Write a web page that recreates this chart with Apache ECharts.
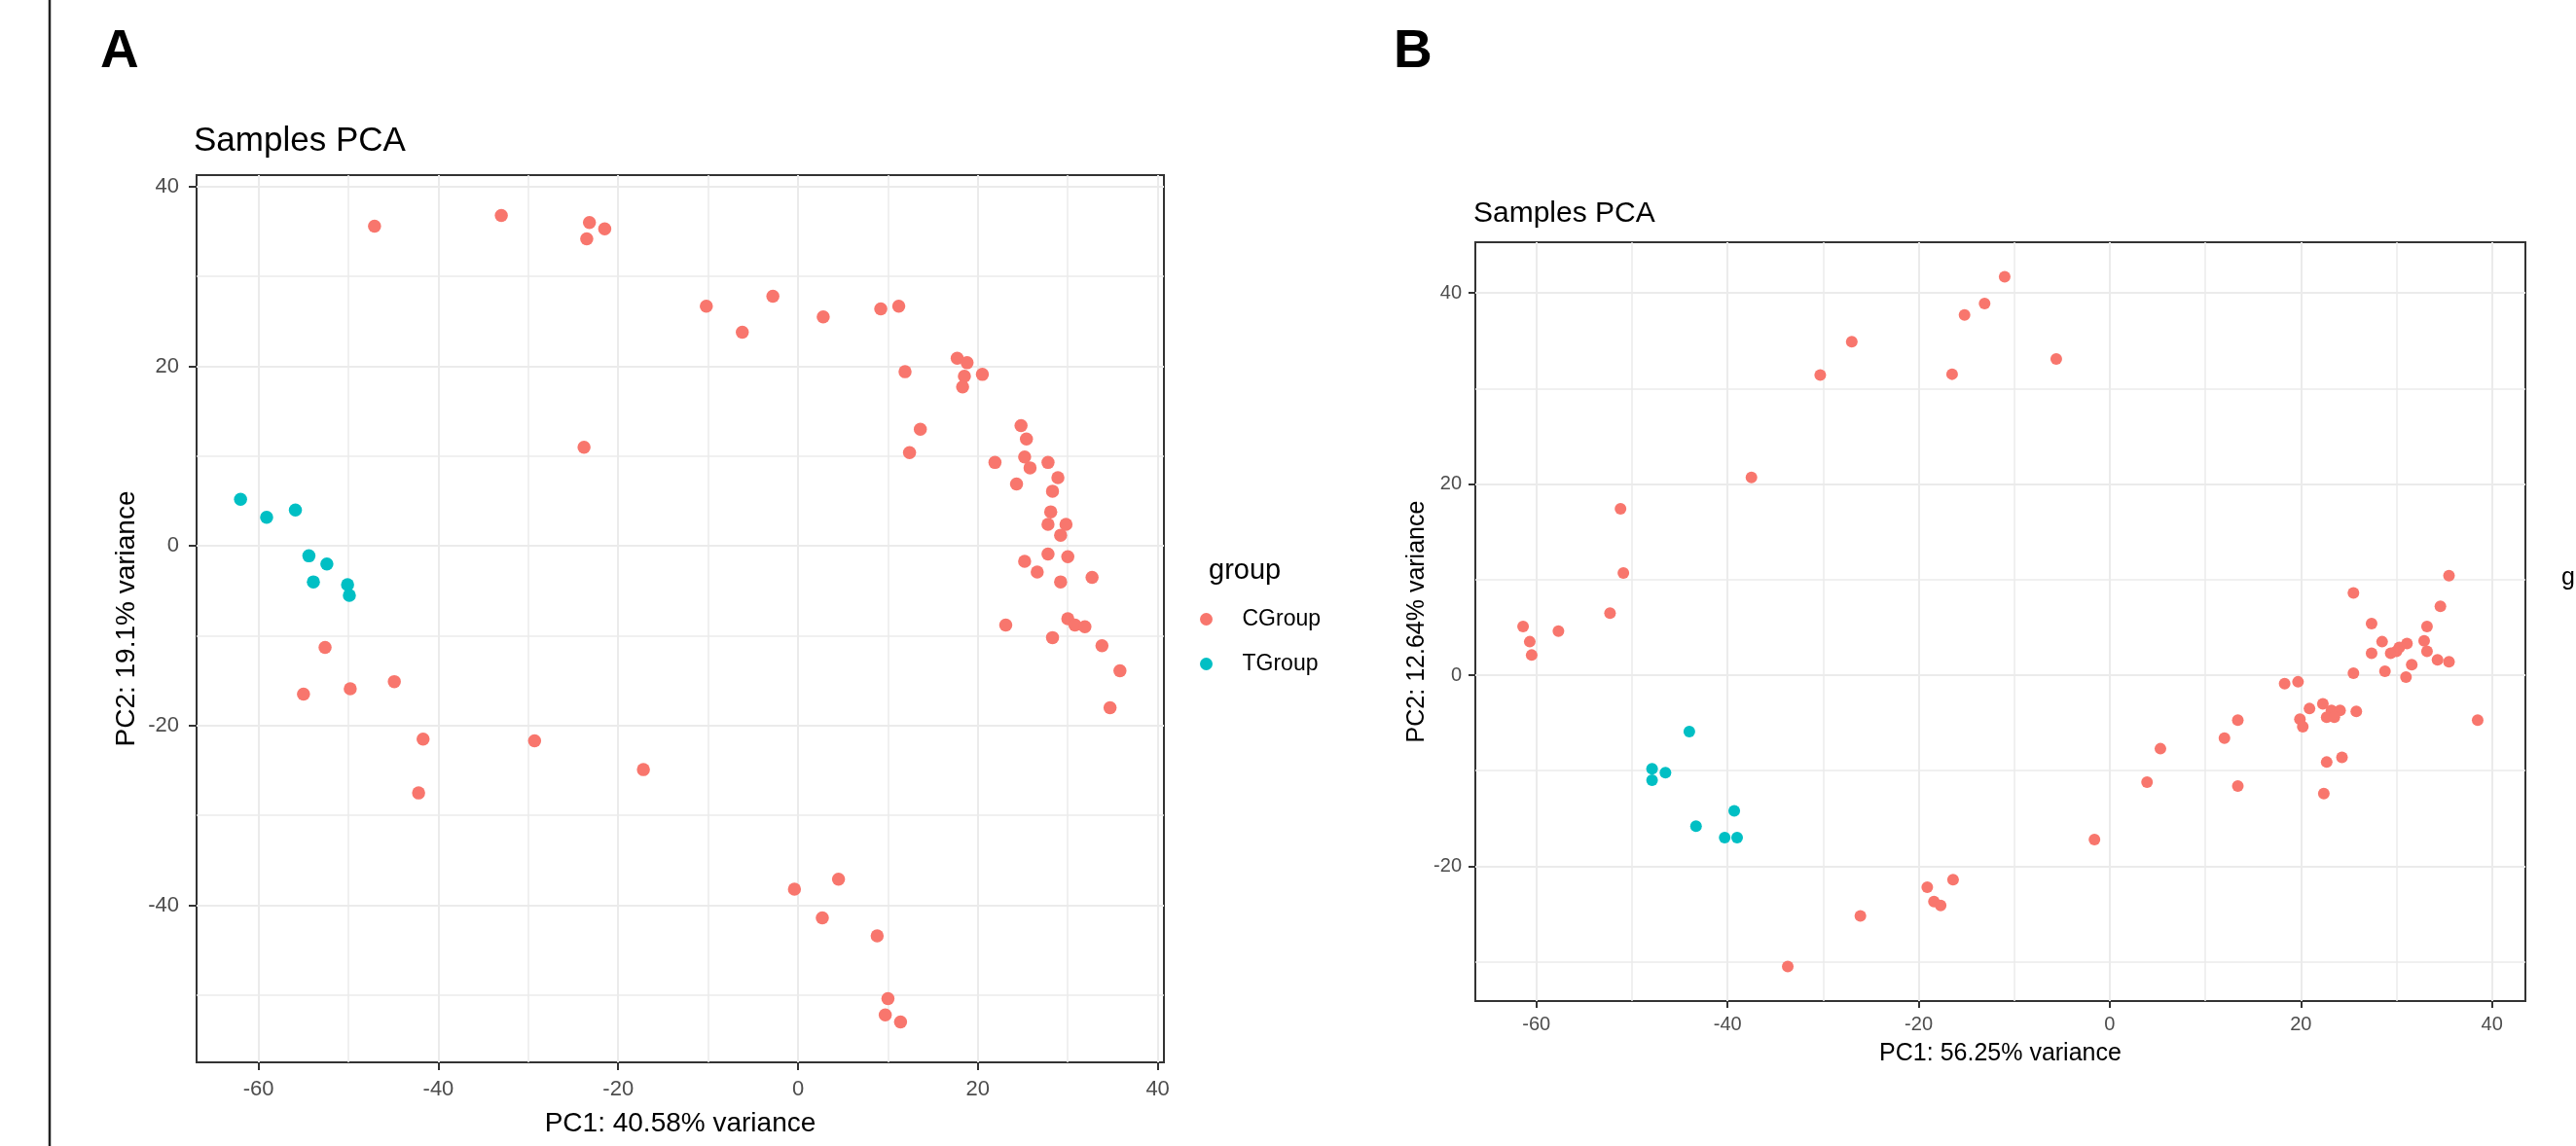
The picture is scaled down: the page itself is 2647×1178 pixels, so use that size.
<!DOCTYPE html>
<html>
<head>
<meta charset="utf-8">
<script src="https://cdn.jsdelivr.net/npm/echarts@6.0.0/dist/echarts.min.js"></script>
<style>
  html, body { margin: 0; padding: 0; background: #fff; }
  #chart { width: 2647px; height: 1178px; }
</style>
</head>
<body>
<div id="chart"></div>
<script>
const groups = ['CGroup', 'TGroup'];
const groupColors = ['#F8766D', '#00BFC4'];

// panel A scores [PC1, PC2]
const pcaA_CGroup = [
  [-47.1, 35.6], [-33.0, 36.8], [-23.2, 36.0], [-21.5, 35.3], [-23.5, 34.2],
  [-10.2, 26.7], [-6.2, 23.8], [-2.8, 27.8], [2.8, 25.5], [9.2, 26.4], [11.2, 26.7],
  [11.9, 19.4], [17.7, 20.9], [18.8, 20.4], [18.5, 18.9], [18.3, 17.7], [20.5, 19.1],
  [13.6, 13.0], [12.4, 10.4], [-23.8, 11.0],
  [24.8, 13.4], [25.4, 11.9], [21.9, 9.3], [25.2, 9.9], [25.8, 8.7], [27.8, 9.3],
  [24.3, 6.9], [28.9, 7.6], [28.3, 6.1], [28.1, 3.8], [27.8, 2.4], [29.8, 2.4], [29.2, 1.2],
  [25.2, -1.7], [27.8, -0.9], [30.0, -1.2], [26.6, -2.9], [29.2, -4.0], [32.7, -3.5],
  [23.1, -8.8], [30.0, -8.1], [30.8, -8.8], [31.9, -9.0], [28.3, -10.2], [33.8, -11.1],
  [35.8, -13.9], [34.7, -18.0],
  [-52.6, -11.3], [-55.0, -16.5], [-49.8, -15.9], [-44.9, -15.1], [-41.7, -21.5],
  [-42.2, -27.5], [-29.3, -21.7], [-17.2, -24.9],
  [-0.4, -38.2], [4.5, -37.1], [2.7, -41.4], [8.8, -43.4], [10.0, -50.4], [9.7, -52.2], [11.4, -53.0]
];
const pcaA_TGroup = [
  [-62.0, 5.2], [-59.1, 3.2], [-55.9, 4.0], [-54.4, -1.1],
  [-52.4, -2.0], [-53.9, -4.0], [-50.1, -4.3], [-49.9, -5.5]
];

// panel B scores [PC1, PC2]
const pcaB_CGroup = [
  [-61.4, 5.1], [-60.7, 3.5], [-60.5, 2.1], [-57.7, 4.6], [-52.3, 6.5], [-51.2, 17.4],
  [-50.9, 10.7], [-37.5, 20.7],
  [-30.3, 31.4], [-27.0, 34.9], [-16.5, 31.5], [-15.2, 37.7], [-13.1, 38.9], [-11.0, 41.7], [-5.6, 33.1],
  [-33.7, -30.5], [-26.1, -25.2], [-19.1, -22.2], [-18.4, -23.7], [-17.7, -24.1], [-16.4, -21.4],
  [-1.6, -17.2], [3.9, -11.2], [5.3, -7.7], [12.0, -6.6], [13.4, -4.7], [13.4, -11.6],
  [18.3, -0.9], [19.7, -0.7], [22.3, -3.0], [20.9, -3.5], [23.2, -3.7], [24.1, -3.7],
  [22.7, -4.4], [23.5, -4.4], [25.8, -3.8], [19.9, -4.6], [20.2, -5.4], [24.3, -8.6],
  [22.7, -9.1], [22.4, -12.4], [38.5, -4.7],
  [25.5, 8.6], [27.4, 5.4], [27.4, 2.3], [28.5, 3.5], [28.8, 0.4], [29.4, 2.3], [30.0, 2.5],
  [30.3, 2.9], [31.1, 3.3], [31.0, -0.2], [31.6, 1.1], [32.9, 3.6], [33.2, 5.1], [33.2, 2.5],
  [34.3, 1.6], [34.6, 7.2], [35.5, 10.4], [35.5, 1.4], [25.5, 0.2]
];
const pcaB_TGroup = [
  [-44.0, -5.9], [-47.9, -9.8], [-47.9, -11.0], [-46.5, -10.2],
  [-43.3, -15.8], [-39.3, -14.2], [-40.3, -17.0], [-39.0, -17.0]
];

// tick labels (major) and minor grid positions
const ticksA_x = [-60, -40, -20, 0, 20, 40];
const ticksA_y = [-40, -20, 0, 20, 40];
const minorA_x = [-60, -50, -40, -30, -20, -10, 0, 10, 20, 30, 40];
const minorA_y = [-50, -40, -30, -20, -10, 0, 10, 20, 30, 40];
const ticksB_x = [-60, -40, -20, 0, 20, 40];
const ticksB_y = [-20, 0, 20, 40];
const minorB_x = [-60, -50, -40, -30, -20, -10, 0, 10, 20, 30, 40];
const minorB_y = [-30, -20, -10, 0, 10, 20, 30, 40];

const FONT = '"Liberation Sans", Arial, sans-serif';

// ggplot style 5% padding round the data
const padRange = (sets, dim) => {
  const vals = sets.flat().map(p => p[dim]);
  const lo = Math.min(...vals), hi = Math.max(...vals);
  const pad = (hi - lo) * 0.05;
  return [lo - pad, hi + pad];
};

const rangeA_x = padRange([pcaA_CGroup, pcaA_TGroup], 0);
const rangeA_y = padRange([pcaA_CGroup, pcaA_TGroup], 1);
const rangeB_x = padRange([pcaB_CGroup, pcaB_TGroup], 0);
const rangeB_y = padRange([pcaB_CGroup, pcaB_TGroup], 1);

const mainAxis = (gridIndex, range, ticks, o) => ({
  type: 'value',
  gridIndex: gridIndex,
  min: range[0],
  max: range[1],
  axisLine: { show: false, onZero: false },
  axisTick: { show: true, length: o.tick, customValues: ticks, lineStyle: { color: '#333333', width: 2 } },
  axisLabel: { customValues: ticks, margin: o.margin, color: '#4D4D4D', fontSize: o.label, fontFamily: FONT },
  splitLine: { show: true, lineStyle: { color: '#EBEBEB', width: 2 } },
  name: o.name,
  nameLocation: 'middle',
  nameGap: o.nameGap,
  nameTextStyle: { color: '#000', fontSize: o.nameSize, fontFamily: FONT }
});

const minorAxis = (gridIndex, range, ticks) => ({
  type: 'value',
  gridIndex: gridIndex,
  min: range[0],
  max: range[1],
  axisLine: { show: false, onZero: false },
  axisTick: { show: false, customValues: ticks },
  axisLabel: { show: false },
  splitLine: { show: true, lineStyle: { color: '#EBEBEB', width: 1.5 } }
});

const scatter = (name, data, color, xi, yi, size) => ({
  name: name,
  type: 'scatter',
  xAxisIndex: xi,
  yAxisIndex: yi,
  data: data,
  symbolSize: size,
  itemStyle: { color: color, opacity: 1 },
  emphasis: { disabled: true },
  z: 5
});

const chart = echarts.init(document.getElementById('chart'));

const option = {
  animation: false,
  backgroundColor: '#fff',
  title: [
    { text: 'A', left: 103, top: 26, padding: 0, textStyle: { fontSize: 55, fontWeight: 'bold', color: '#000', fontFamily: FONT } },
    { text: 'B', left: 1432, top: 26, padding: 0, textStyle: { fontSize: 55, fontWeight: 'bold', color: '#000', fontFamily: FONT } },
    { text: 'Samples PCA', left: 199, top: 128, padding: 0, textStyle: { fontSize: 35, fontWeight: 'normal', color: '#000', fontFamily: FONT } },
    { text: 'Samples PCA', left: 1514, top: 205, padding: 0, textStyle: { fontSize: 30, fontWeight: 'normal', color: '#000', fontFamily: FONT } },
    { text: 'group', left: 1242, top: 572, padding: 0, textStyle: { fontSize: 29, fontWeight: 'normal', color: '#000', fontFamily: FONT } },
    { text: 'group', left: 2632, top: 582, padding: 0, textStyle: { fontSize: 25, fontWeight: 'normal', color: '#000', fontFamily: FONT } }
  ],
  legend: {
    orient: 'vertical',
    left: 1233,
    top: 625,
    padding: 0,
    itemWidth: 64,
    itemHeight: 13,
    itemGap: 23,
    icon: 'circle',
    selectedMode: false,
    data: groups,
    textStyle: { fontSize: 23, lineHeight: 23, color: '#000', fontFamily: FONT }
  },
  grid: [
    { left: 202, top: 180, width: 994, height: 912, show: true, borderColor: '#333333', borderWidth: 2, backgroundColor: 'transparent', outerBoundsMode: 'none' },
    { left: 1516, top: 249, width: 1079, height: 780, show: true, borderColor: '#333333', borderWidth: 2, backgroundColor: 'transparent', outerBoundsMode: 'none' }
  ],
  xAxis: [
    mainAxis(0, rangeA_x, ticksA_x, { tick: 8, margin: 17, label: 22, name: 'PC1: 40.58% variance', nameGap: 49, nameSize: 28 }),
    minorAxis(0, rangeA_x, minorA_x),
    mainAxis(1, rangeB_x, ticksB_x, { tick: 7, margin: 14, label: 20, name: 'PC1: 56.25% variance', nameGap: 42, nameSize: 25 }),
    minorAxis(1, rangeB_x, minorB_x)
  ],
  yAxis: [
    mainAxis(0, rangeA_y, ticksA_y, { tick: 8, margin: 18, label: 22, name: 'PC2: 19.1% variance', nameGap: 58, nameSize: 28 }),
    minorAxis(0, rangeA_y, minorA_y),
    mainAxis(1, rangeB_y, ticksB_y, { tick: 7, margin: 14, label: 20, name: 'PC2: 12.64% variance', nameGap: 47, nameSize: 25 }),
    minorAxis(1, rangeB_y, minorB_y)
  ],
  series: [
    scatter(groups[0], pcaA_CGroup, groupColors[0], 0, 0, 13.5),
    scatter(groups[1], pcaA_TGroup, groupColors[1], 0, 0, 13.5),
    scatter(groups[0], pcaB_CGroup, groupColors[0], 2, 2, 12),
    scatter(groups[1], pcaB_TGroup, groupColors[1], 2, 2, 12)
  ],
  graphic: [
    { type: 'line', shape: { x1: 51, y1: 0, x2: 51, y2: 1178 }, style: { stroke: '#222', lineWidth: 2.5 } }
  ]
};

chart.setOption(option);
window.addEventListener('resize', chart.resize);
</script>
</body>
</html>
